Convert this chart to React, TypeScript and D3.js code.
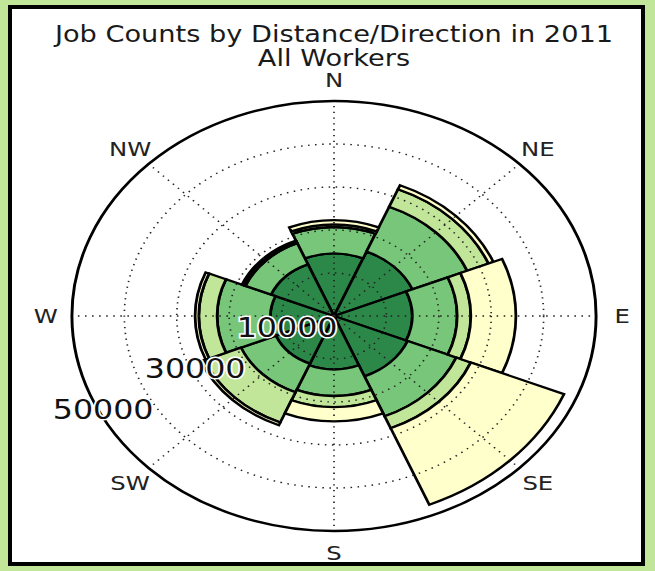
import React from "react";
import * as d3 from "d3";

const directions = ["N", "NE", "E", "SE", "S", "SW", "W", "NW"];
// Job counts per distance band
const lessThan10 = [14500, 16200, 14900, 15200, 12400, 12000, 12100, 13000];
const from10to24 = [6200, 11300, 8600, 10050, 6200, 7200, 10200, 5300];
const from25to50 = [600, 4400, 2600, 3000, 2600, 7600, 3500, 400];
const greaterThan50 = [1000, 1000, 8600, 19250, 3300, 700, 700, 300];
const layerColors = ["#2c8849", "#78c679", "#c2e699", "#ffffcc"];
const gridTicks = [10000, 20000, 30000, 40000];
const radialLabels = [10000, 30000, 50000];
const rMax = 50000;

const title1 = "Job Counts by Distance/Direction in 2011";
const title2 = "All Workers";

export default function App() {
  const W = 655;
  const H = 571;
  const cx = 334;
  const cy = 316;
  const R = 215;
  const sx = 1.219;
  const r = d3.scaleLinear().domain([0, rMax]).range([0, R]);
  const step = (2 * Math.PI) / directions.length;

  const layers = [lessThan10, from10to24, from25to50, greaterThan50];
  const cum: number[][] = [];
  layers.forEach((vals, li) => {
    cum.push(vals.map((v, i) => (li === 0 ? 0 : cum[li - 1][i] + layers[li - 1][i])));
  });

  const arc = d3.arc<any>();
  const font = "DejaVu Sans, Verdana, sans-serif";
  const labelAngle = (28.7 * Math.PI) / 180;

  return (
    <svg width={W} height={H} style={{ position: "absolute", left: 0, top: 0 }}>
      <rect x={0} y={0} width={W} height={H} fill="#c2e699" />
      <rect x={10} y={7} width={633} height={557} fill="#ffffff" stroke="#000" strokeWidth={4} />
      <g transform={`translate(${cx},0) scale(${sx},1)`} fontFamily={font} fill="#1a1a1a" textAnchor="middle">
        <text x={0} y={42} fontSize={22.3}>{title1}</text>
        <text x={0} y={66} fontSize={22.3}>{title2}</text>
      </g>
      <g transform={`translate(${cx},${cy}) scale(${sx},1)`}>
        {layers.map((vals, li) =>
          vals.map((v, i) => (
            <path
              key={`w${li}-${i}`}
              d={arc({
                innerRadius: r(cum[li][i]),
                outerRadius: r(cum[li][i] + v),
                startAngle: i * step - step / 2,
                endAngle: i * step + step / 2,
              }) as string}
              fill={layerColors[li]}
              stroke="#000"
              strokeWidth={2.3}
              strokeLinejoin="miter"
            />
          ))
        )}
        {gridTicks.map((t) => (
          <circle key={`g${t}`} r={r(t)} fill="none" stroke="#222" strokeWidth={1.4} strokeDasharray="1.3,4.5" />
        ))}
        {directions.map((d, i) => {
          const a = i * step;
          return (
            <line
              key={`l${d}`}
              x1={0}
              y1={0}
              x2={R * Math.sin(a)}
              y2={-R * Math.cos(a)}
              stroke="#222"
              strokeWidth={1.4}
              strokeDasharray="1.3,4.5"
            />
          );
        })}
        <circle r={R} fill="none" stroke="#000" strokeWidth={2.4} />
        {directions.map((d, i) => {
          const a = i * step;
          const rr = R * 1.1;
          return (
            <text
              key={`t${d}`}
              x={rr * Math.sin(a)}
              y={-rr * Math.cos(a)}
              fontFamily={font}
              fontSize={20}
              fill="#222"
              textAnchor="middle"
              dominantBaseline="central"
            >
              {d}
            </text>
          );
        })}
        {radialLabels.map((t) => (
          <text
            key={`rl${t}`}
            x={-r(t) * Math.cos(labelAngle) - 0.8}
            y={r(t) * Math.sin(labelAngle) - 9}
            fontFamily={font}
            fontSize={26}
            fill="#111"
            stroke="#ffffff"
            strokeWidth={3}
            paintOrder="stroke"
            textAnchor="middle"
            dominantBaseline="central"
          >
            {t}
          </text>
        ))}
      </g>
    </svg>
  );
}
